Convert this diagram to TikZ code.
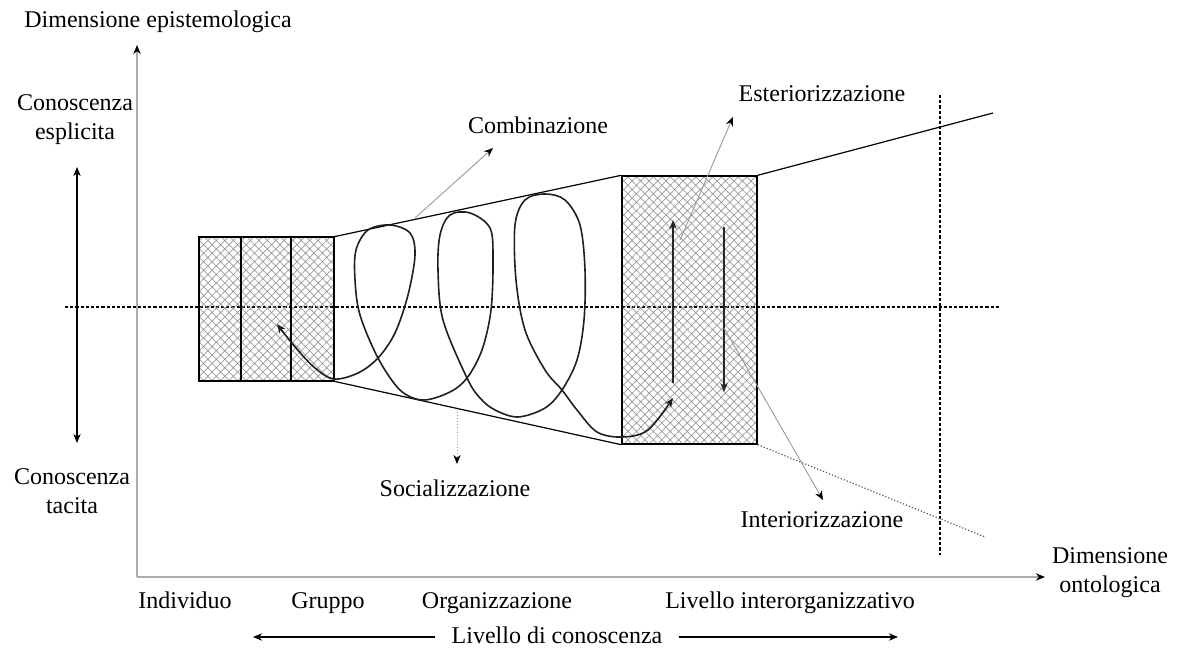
\documentclass[tikz,border=0pt]{standalone}
\usepackage{fontspec}
\setmainfont{Liberation Serif}
\usetikzlibrary{arrows.meta,patterns.meta}

\begin{document}
\begin{tikzpicture}[x=0.5pt,y=-0.5pt,>={Stealth[length=1.6mm,width=1.3mm]},
  lbl/.style={font=\fontsize{12}{14.5}\selectfont,inner sep=1pt,align=center},
  oneline/.style={lbl,text height=8.5pt,text depth=2.5pt},
  hatchbox/.style={draw,line width=0.7pt,pattern={Hatch[angle=45,distance=3pt,line width=0.35pt]},pattern color=gray!80},
  guide/.style={dash pattern=on 1.6pt off 1pt,line width=0.6pt},
  pointer/.style={-{Stealth[length=1.6mm,width=1.3mm,black]},gray!80,line width=0.45pt},
  axis/.style={-{Stealth[length=1.6mm,width=1.3mm,black]},gray!65,line width=0.9pt}]
  \useasboundingbox (0,0) rectangle (1178,652);
  % axes
  \coordinate (o) at (137,577);
  \coordinate (ytip) at (137,45);
  \coordinate (xtip) at (1045,577);
  \draw[axis] (o) -- (ytip);
  \draw[axis] (o) -- (xtip);
  \node[oneline] (epi) at (158,22) {Dimensione epistemologica};
  \node[lbl] (onto) at (1110,573) {Dimensione\\ontologica};
  \node[lbl] (espl) at (75,120) {Conoscenza\\esplicita};
  \node[lbl] (tac) at (72,491) {Conoscenza\\tacita};
  \coordinate (kup) at (77,167);
  \coordinate (kdn) at (77,443);
  \draw[<->,line width=0.6pt] (kup) -- (kdn);
  % guide lines
  \draw[guide] (65,307) -- (1000,307);
  \draw[guide] (940,95) -- (940,555);
  % boxes
  \node[hatchbox,minimum width=67.5pt,minimum height=72pt,inner sep=0pt] (lbox) at (266.5,309) {};
  \draw[line width=0.7pt] (241,237) -- (241,381) (291,237) -- (291,381);
  \node[hatchbox,minimum width=67.5pt,minimum height=134pt,inner sep=0pt] (bbox) at (689.5,310) {};
  \draw[line width=0.6pt] (lbox.north east) -- (bbox.north west);
  \draw[line width=0.6pt] (lbox.south east) -- (bbox.south west);
  \coordinate (topend) at (993,113);
  \coordinate (botend) at (985,537);
  \draw[line width=0.6pt] (bbox.north east) -- (topend);
  \draw[gray!70!black,densely dotted,line width=0.6pt] (bbox.south east) -- (botend);
  % spiral
  \draw[<->,gray!25!black,line width=0.8pt] plot[smooth,tension=0.55] coordinates {
    (277,324) (296,348) (315,368) (334,379) (358,373) (378,358) (395,333) (408,295)
    (415,255) (410,233) (390,225) (368,230) (356,250) (355,280) (360,315) (378,358)
    (400,390) (423,400) (450,392) (467,378) (482,350) (491,310) (493,260) (490,228)
    (470,213) (450,215) (440,235) (438,270) (443,320) (467,378) (480,398) (495,410)
    (518,417) (545,408) (562,390) (577,360) (584,320) (585,270) (580,225) (565,200)
    (545,194) (525,200) (515,225) (516,280) (525,330) (545,370) (562,390) (577,410)
    (597,432) (622,437) (648,430) (673,398)};
  % inner arrows
  \coordinate (upA) at (673,383);
  \coordinate (upB) at (673,220);
  \coordinate (dnA) at (724,227);
  \coordinate (dnB) at (724,392);
  \draw[->,gray!30!black,line width=0.7pt] (upA) -- (upB);
  \draw[->,gray!30!black,line width=0.7pt] (dnA) -- (dnB);
  % modes
  \node[oneline] (comb) at (538,128) {Combinazione};
  \coordinate (combA) at (415,218);
  \coordinate (combB) at (493,148);
  \draw[pointer] (combA) -- (combB);
  \node[oneline] (est) at (822,96) {Esteriorizzazione};
  \coordinate (estA) at (680,240);
  \coordinate (estB) at (733,117);
  \draw[pointer] (estA) -- (estB);
  \node[oneline] (inte) at (822,521) {Interiorizzazione};
  \coordinate (intA) at (724,328);
  \coordinate (intB) at (823,500);
  \draw[pointer] (intA) -- (intB);
  \node[oneline] (soc) at (455,490) {Socializzazione};
  \coordinate (socA) at (457,412);
  \coordinate (socB) at (457,464);
  \draw[pointer,densely dotted] (socA) -- (socB);
  % levels
  \node[oneline] (ind) at (185,602) {Individuo};
  \node[oneline] (grp) at (328,602) {Gruppo};
  \node[oneline] (org) at (497,602) {Organizzazione};
  \node[oneline] (inter) at (790,602) {Livello interorganizzativo};
  \node[oneline] (lvl) at (557,637) {Livello di conoscenza};
  \coordinate (lvlL) at (253,637);
  \coordinate (lvlR) at (898,637);
  \draw[->,line width=0.6pt] ([xshift=-7pt]lvl.west) -- (lvlL);
  \draw[->,line width=0.6pt] ([xshift=7pt]lvl.east) -- (lvlR);
\end{tikzpicture}
\end{document}
